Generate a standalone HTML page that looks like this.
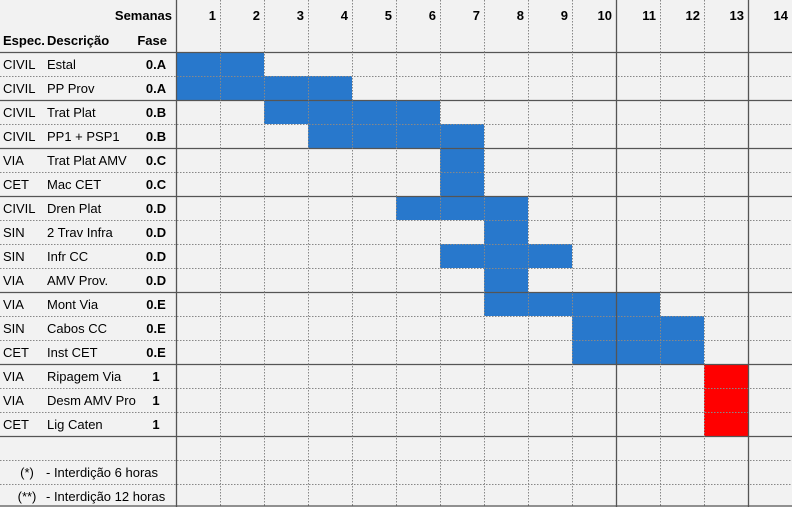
<!DOCTYPE html>
<html><head><meta charset="utf-8"><style>
body{margin:0;background:#f2f2f2;}
svg{display:block;font-family:"Liberation Sans",Arial,sans-serif;}
</style></head><body>
<svg id="c" width="792" height="507"></svg>
<script>
const weeks=[1,2,3,4,5,6,7,8,9,10,11,12,13,14];
const especs=["CIVIL","CIVIL","CIVIL","CIVIL","VIA","CET","CIVIL","SIN","SIN","VIA","VIA","SIN","CET","VIA","VIA","CET"];
const descs=["Estal","PP Prov","Trat Plat","PP1 + PSP1","Trat Plat AMV","Mac CET","Dren Plat","2 Trav Infra","Infr CC","AMV Prov.","Mont Via","Cabos CC","Inst CET","Ripagem Via","Desm AMV Pro","Lig Caten"];
const fases=["0.A","0.A","0.B","0.B","0.C","0.C","0.D","0.D","0.D","0.D","0.E","0.E","0.E","1","1","1"];
const starts=[1,1,3,4,7,7,6,8,7,8,8,10,10,13,13,13];
const ends=[2,4,6,7,7,7,8,8,9,8,11,12,12,13,13,13];
const critical=[0,0,0,0,0,0,0,0,0,0,0,0,0,1,1,1];
const notes=[["(*)","- Interdição 6 horas"],["(**)","- Interdição 12 horas"]];
const NS="http://www.w3.org/2000/svg",svg=document.getElementById('c');
const X0=176,CW=44,Y0=52,RH=24;
const wx=w=>X0+(w-1)*CW, ry=i=>Y0+i*RH;
function el(t,a,txt){const e=document.createElementNS(NS,t);for(const k in a)e.setAttribute(k,a[k]);if(txt!=null)e.textContent=txt;svg.appendChild(e);return e;}
// bars
descs.forEach((d,i)=>{
 const r=el('rect',{x:wx(starts[i]),y:ry(i),width:(ends[i]-starts[i]+1)*CW,height:RH,fill:critical[i]?'#ff0000':'#2878cc'});
 
 
});
// grid horizontal
const totalRows=descs.length+3;
const solidAfter=[0,2,4,6,10,13,16];
for(let i=0;i<=totalRows;i++){
 const y=ry(i);const solid=solidAfter.includes(i);
 el('line',{x1:0,x2:792,y1:y+.5,y2:y+.5,stroke:solid?'#555':'#888','stroke-width':solid?1.3:1,'stroke-dasharray':solid?'':'1.5,1.5'});
}
// vertical
weeks.forEach(w=>{
 const x=wx(w);const solid=(w===1||w===11||w===14);
 el('line',{x1:x+.5,x2:x+.5,y1:0,y2:507,stroke:solid?'#555':'#888','stroke-width':solid?1.3:1,'stroke-dasharray':solid?'':'1.5,1.5'});
 const t=el('text',{x:x+CW-4,y:20,'text-anchor':'end','font-size':13,'font-weight':'bold'},w);
 
 
});
el('line',{x1:0,x2:792,y1:506,y2:506,stroke:'#555','stroke-width':1.3});
// headers
[["Semanas",172,20,'end'],["Espec.",3,45,'start'],["Descrição",47,45,'start'],["Fase",167,45,'end']].forEach(h=>{
 const t=el('text',{x:h[1],y:h[2],'text-anchor':h[3],'font-size':13,'font-weight':'bold'},h[0]);
 
 
});
descs.forEach((d,i)=>{
 const y=ry(i)+17;
 let t=el('text',{x:3,y:y,'font-size':13},especs[i]);
 
 t=el('text',{x:47,y:y,'font-size':13},d);
 
 t=el('text',{x:156,y:y,'text-anchor':'middle','font-size':13,'font-weight':'bold'},fases[i]);
 
});
notes.forEach((n,i)=>{
 const y=ry(descs.length+1+i)+17;
 let t=el('text',{x:27,y:y,'text-anchor':'middle','font-size':13},n[0]);
 
 t=el('text',{x:46,y:y,'font-size':13},n[1]);
 
});
</script>
</body></html>
